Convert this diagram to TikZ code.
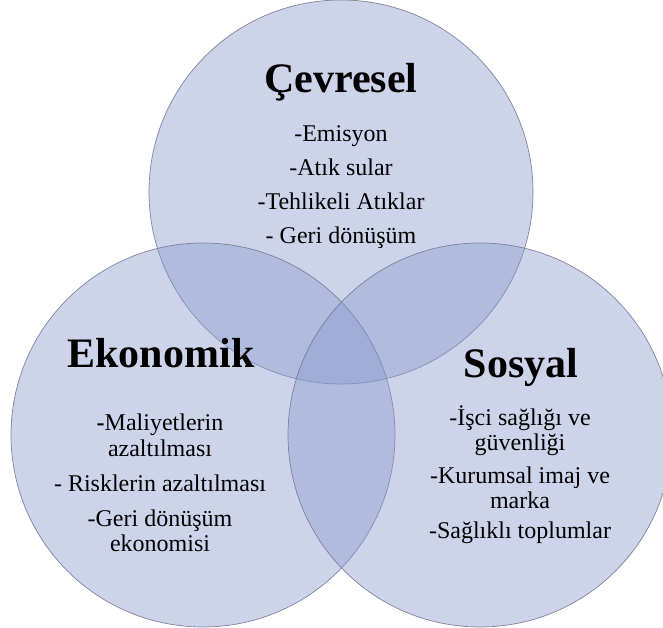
\documentclass[tikz,border=0pt]{standalone}
\usepackage{fontspec}
\setmainfont{Liberation Serif}
\usetikzlibrary{calc}

\definecolor{vennfill}{RGB}{136,153,205}
\definecolor{vennline}{RGB}{112,122,150}

\begin{document}
\begin{tikzpicture}[x=1pt,y=1pt,
    venn/.style={fill=vennfill,fill opacity=0.42,draw=vennline,
        draw opacity=0.9,line width=0.7pt},
    title/.style={font=\fontsize{42}{42}\selectfont\bfseries,anchor=base,
        inner sep=0pt},
    item/.style={font=\fontsize{24}{24}\selectfont,anchor=base,
        inner sep=0pt}]

% Page frame, circles are cut at the right edge.
\useasboundingbox (0,0) rectangle (663,628);
\clip (0,0) rectangle (663,628);

% Circle centres.
\coordinate (CEV) at (341,436);
\coordinate (EKO) at (203,193);
\coordinate (SOS) at (480,193);

% Draw the three circles.
\foreach \c in {CEV,EKO,SOS} {
    \draw[venn] (\c) circle [radius=192pt];
}

% Circle titles.
\node[title] (cevtitle) at (341,535) {Çevresel};
\node[title] (ekotitle) at (161,260) {Ekonomik};
\node[title] (sostitle) at (521,250) {Sosyal};

% Items of the top circle.
\foreach \y/\t/\n in {486/-Emisyon/1,452/-Atık sular/2,
        418/-Tehlikeli Atıklar/3,384/- Geri dönüşüm/4} {
    \node[item] (cev\n) at (341,\y) {\t};
}

% Items of the left circle.
\foreach \y/\t/\n in {197/\textbf{-}Maliyetlerin/1,171/azaltılması/2,
        136/- Risklerin azaltılması/3,101/-Geri dönüşüm/4,76/ekonomisi/5} {
    \node[item] (eko\n) at (160,\y) {\t};
}

% Items of the right circle.
\foreach \y/\t/\n in {202/-İşci sağlığı ve/1,177/güvenliği/2,
        144/-Kurumsal imaj ve/3,119/marka/4,89/-Sağlıklı toplumlar/5} {
    \node[item] (sos\n) at (520,\y) {\t};
}

\end{tikzpicture}
\end{document}
